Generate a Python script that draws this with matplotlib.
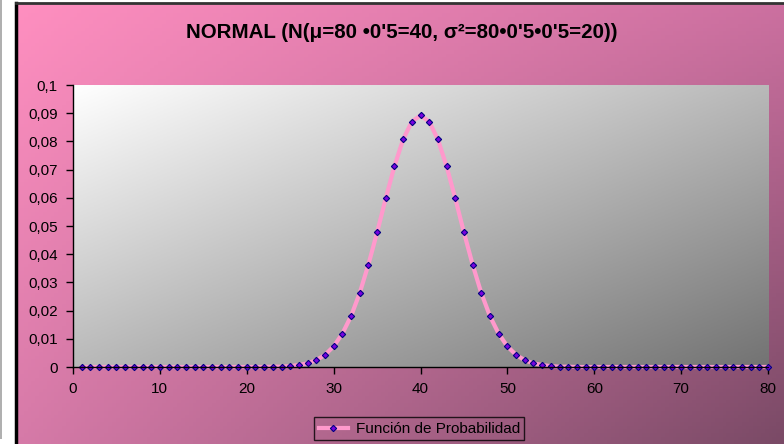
import numpy as np
import matplotlib.pyplot as plt
from matplotlib.patches import Rectangle
from matplotlib.lines import Line2D

# valores (x = 1..80)
x = list(range(1, 81))
y = [0.0, 0.0, 0.0, 0.0, 0.0, 0.0, 0.0, 0.0, 0.0, 0.0,
     0.0, 0.0, 0.0, 0.0, 0.0, 0.0, 0.0, 0.0, 0.0, 0.0,
     0.0, 0.0, 0.0001, 0.0001, 0.0003, 0.0007, 0.0013, 0.0024, 0.0043, 0.0073,
     0.0118, 0.0180, 0.0262, 0.0363, 0.0477, 0.0598, 0.0712, 0.0807, 0.0870, 0.0892,
     0.0870, 0.0807, 0.0712, 0.0598, 0.0477, 0.0363, 0.0262, 0.0180, 0.0118, 0.0073,
     0.0043, 0.0024, 0.0013, 0.0007, 0.0003, 0.0001, 0.0001, 0.0, 0.0, 0.0,
     0.0, 0.0, 0.0, 0.0, 0.0, 0.0, 0.0, 0.0, 0.0, 0.0,
     0.0, 0.0, 0.0, 0.0, 0.0, 0.0, 0.0, 0.0, 0.0, 0.0]

xticks = [0, 10, 20, 30, 40, 50, 60, 70, 80]
yticks = [0, 0.01, 0.02, 0.03, 0.04, 0.05, 0.06, 0.07, 0.08, 0.09, 0.1]
ylabels = ['0', '0,01', '0,02', '0,03', '0,04', '0,05', '0,06', '0,07', '0,08', '0,09', '0,1']

plt.rcParams['font.family'] = ['Liberation Sans', 'DejaVu Sans']

W, H = 784, 444
fig = plt.figure(figsize=(W / 100, H / 100), dpi=100)
fig.patch.set_facecolor('white')

# franja gris a la izquierda
fig.patches.append(Rectangle((0, 5 / H), 2 / W, 1 - 5 / H, transform=fig.transFigure,
                             facecolor='#b0b0b0', edgecolor='none'))

# fondo rosa con degradado
bg = fig.add_axes([16 / W, 0, 1 - 16 / W, 1 - 3 / H])
bg.set_axis_off()
tl = np.array([255, 143, 192]) / 255
tr = np.array([204, 112, 160]) / 255
bl = np.array([214, 122, 168]) / 255
br = np.array([122, 74, 102]) / 255
u = np.linspace(0, 1, 200)[None, :, None]
v = np.linspace(0, 1, 120)[:, None, None]
img = (tl * (1 - u) * (1 - v) + tr * u * (1 - v) + bl * (1 - u) * v + br * u * v)
bg.imshow(np.clip(img, 0, 1), aspect='auto', extent=(0, 1, 1, 0))
bg.set_xlim(0, 1)
bg.set_ylim(1, 0)
bg.plot([0, 0], [0, 1], color='black', lw=2.5, clip_on=False)
bg.plot([0, 1], [0, 0], color='#333333', lw=2, clip_on=False)

# área de trazado
ax = fig.add_axes([73 / W, 77 / H, 695 / W, 282 / H])
gu = np.linspace(0, 1, 200)[None, :]
gv = np.linspace(0, 1, 120)[:, None]
g = 1.0 - 0.55 * (gu + gv) / 2
ax.imshow(np.dstack([g, g, g]), aspect='auto', extent=(0, 1, 0, 1),
          transform=ax.transAxes, zorder=0)

ax.plot(x, y, color='#ff99cc', lw=3, zorder=2, marker='D', markersize=3.2,
        markerfacecolor='#7a00e0', markeredgecolor='#000080', markeredgewidth=0.8,
        clip_on=False, label='Función de Probabilidad')

ax.set_xlim(0, 80)
ax.set_ylim(0, 0.1)
ax.set_xticks(xticks)
ax.set_xticklabels([str(t) for t in xticks])
ax.set_yticks(yticks)
ax.set_yticklabels(ylabels)
ax.tick_params(labelsize=11, length=5, width=1, color='black', pad=6)
ax.spines['top'].set_visible(False)
ax.spines['right'].set_visible(False)
ax.spines['left'].set_linewidth(1)
ax.spines['bottom'].set_linewidth(1)

fig.text(0.513, 0.926, "NORMAL (N(μ=80 •0'5=40, σ²=80•0'5•0'5=20))",
         ha='center', va='center', fontsize=14.8, fontweight='bold')

handle = Line2D([], [], color='#ff99cc', lw=3, marker='D', markersize=3.2,
                markerfacecolor='#7a00e0', markeredgecolor='#000080', markeredgewidth=0.8)
leg = fig.legend([handle], ['Función de Probabilidad'], loc='center',
                 bbox_to_anchor=(0.535, 0.034), fontsize=11, fancybox=False,
                 frameon=True, borderpad=0.3, handlelength=1.9, handletextpad=0.5,
                 borderaxespad=0)
leg.get_frame().set_edgecolor('black')
leg.get_frame().set_facecolor('none')
leg.get_frame().set_linewidth(1)

fig.savefig('out.png', dpi=100)
